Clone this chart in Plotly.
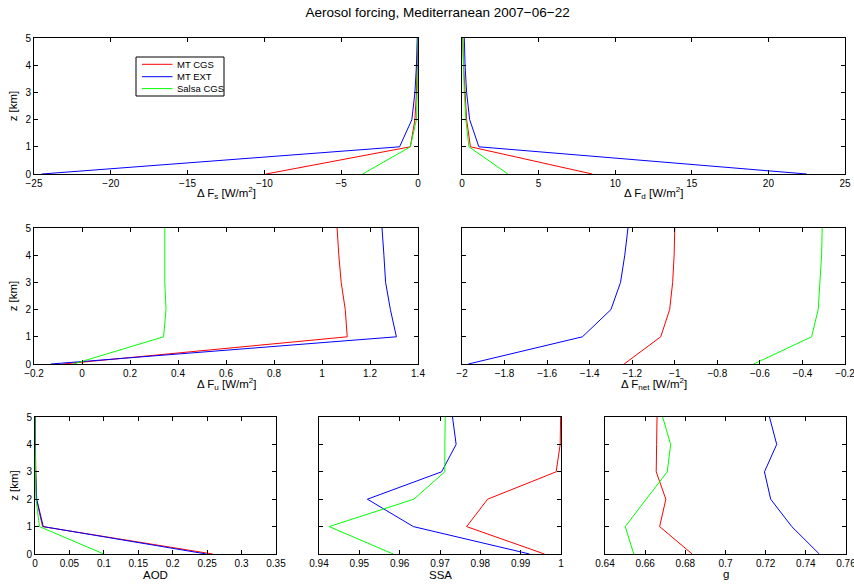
import plotly.graph_objects as go

z = [0, 1, 2, 3, 4, 5]
series_names = ["MT CGS", "MT EXT", "Salsa CGS"]
colors = ["#ff0000", "#0000ff", "#00ff00"]

dFs_cgs = [-9.9, -0.5, -0.2, -0.1, -0.05, 0.0]
dFs_ext = [-24.5, -1.2, -0.4, -0.2, -0.1, -0.05]
dFs_salsa = [-3.6, -0.5, -0.1, -0.05, 0.0, 0.0]

dFd_cgs = [8.5, 0.55, 0.3, 0.2, 0.1, 0.05]
dFd_ext = [22.5, 1.1, 0.5, 0.3, 0.2, 0.15]
dFd_salsa = [3.0, 0.45, 0.25, 0.15, 0.1, 0.05]

dFu_cgs = [-0.08, 1.105, 1.097, 1.08, 1.07, 1.063]
dFu_ext = [-0.13, 1.31, 1.285, 1.265, 1.258, 1.25]
dFu_salsa = [-0.036, 0.34, 0.35, 0.345, 0.345, 0.345]

dFnet_cgs = [-1.238, -1.066, -1.024, -1.01, -1.003, -1.0]
dFnet_ext = [-1.97, -1.434, -1.30, -1.255, -1.235, -1.22]
dFnet_salsa = [-0.629, -0.357, -0.326, -0.318, -0.31, -0.307]

aod_cgs = [0.258, 0.011, 0.002, 0.0008, 0.0005, 0.0003]
aod_ext = [0.249, 0.012, 0.0025, 0.0008, 0.0005, 0.0003]
aod_salsa = [0.1, 0.0065, 0.0015, 0.0004, 0.0002, 0.0001]

ssa_cgs = [0.9959, 0.9766, 0.9818, 0.9988, 0.9998, 0.9999]
ssa_ext = [0.9922, 0.9634, 0.952, 0.9704, 0.974, 0.9731]
ssa_salsa = [0.9584, 0.9425, 0.9635, 0.9712, 0.9712, 0.9713]

g_cgs = [0.6834, 0.6672, 0.6703, 0.6655, 0.6657, 0.6659]
g_ext = [0.7467, 0.733, 0.7225, 0.7194, 0.7255, 0.7219]
g_salsa = [0.6543, 0.6501, 0.6605, 0.671, 0.6727, 0.6687]

W, H = 854, 587


def px_x(p):
    return p / W


def px_y(p):
    return 1 - p / H


panels = [
    # (data, xrange, dtick, xtitle, domain_x(px), domain_y(px top, bottom), show y labels, xtitle y px)
    ((dFs_cgs, dFs_ext, dFs_salsa), [-25, 0], 5, "Δ F<sub>s</sub> [W/m<sup>2</sup>]", (34, 418), (38, 174), True, 193),
    ((dFd_cgs, dFd_ext, dFd_salsa), [0, 25], 5, "Δ F<sub>d</sub> [W/m<sup>2</sup>]", (462, 845), (38, 174), False, 193),
    ((dFu_cgs, dFu_ext, dFu_salsa), [-0.2, 1.4], 0.2, "Δ F<sub>u</sub> [W/m<sup>2</sup>]", (34, 418), (228, 364), True, 384),
    ((dFnet_cgs, dFnet_ext, dFnet_salsa), [-2, -0.2], 0.2, "Δ F<sub>net</sub> [W/m<sup>2</sup>]", (462, 845), (228, 364), False, 384),
    ((aod_cgs, aod_ext, aod_salsa), [0, 0.35], 0.05, "AOD", (35, 276), (417, 554), True, 575),
    ((ssa_cgs, ssa_ext, ssa_salsa), [0.94, 1.0], 0.01, "SSA", (319, 561), (417, 554), False, 575),
    ((g_cgs, g_ext, g_salsa), [0.64, 0.76], 0.02, "g", (605, 846), (417, 554), False, 574),
]

FONT = "Liberation Sans, Arial, Helvetica, sans-serif"
fig = go.Figure()
layout = {}
annotations = []
for i, (data, xr, dt, xt, dx, dy, showy, ty) in enumerate(panels):
    n = "" if i == 0 else str(i + 1)
    for k, vals in enumerate(data):
        fig.add_trace(go.Scatter(
            x=vals, y=z, mode="lines", name=series_names[k],
            line=dict(color=colors[k], width=1),
            xaxis="x" + n, yaxis="y" + n, showlegend=False,
        ))
    common = dict(showline=True, linecolor="black", linewidth=1, mirror="allticks",
                  ticks="inside", ticklen=4, tickcolor="black", showgrid=False,
                  zeroline=False, automargin=False, ticklabeloverflow="allow",
                  tickfont=dict(size=10, color="black", family=FONT))
    layout["xaxis" + n] = dict(common, domain=[px_x(dx[0]), px_x(dx[1])], range=xr, dtick=dt,
                               tick0=xr[0], anchor="y" + n)
    ydict = dict(common, domain=[px_y(dy[1]), px_y(dy[0])], range=[0, 5], dtick=1,
                 anchor="x" + n, showticklabels=showy)
    if showy:
        ydict["title"] = dict(text="z [km]", font=dict(size=11.5, color="black", family=FONT), standoff=5)
    layout["yaxis" + n] = ydict
    annotations.append(dict(text=xt, xref="paper", yref="paper",
                            x=px_x((dx[0] + dx[1]) / 2), y=px_y(ty),
                            xanchor="center", yanchor="middle", showarrow=False,
                            font=dict(size=11.5, color="black", family=FONT)))

fig.update_layout(**layout)

# legend box (drawn inside first panel)
leg_box = (136, 57, 224, 96)
leg_rows = [64.3, 76.7, 88.6]
shapes = [dict(type="rect", xref="paper", yref="paper",
               x0=px_x(leg_box[0]), x1=px_x(leg_box[2]), y0=px_y(leg_box[3]), y1=px_y(leg_box[1]),
               line=dict(color="black", width=1), fillcolor="white", layer="above")]
for k, yy in enumerate(leg_rows):
    shapes.append(dict(type="line", xref="paper", yref="paper",
                       x0=px_x(142), x1=px_x(172.5), y0=px_y(yy), y1=px_y(yy),
                       line=dict(color=colors[k], width=1), layer="above"))
    annotations.append(dict(text=series_names[k], xref="paper", yref="paper",
                            x=px_x(174.5), y=px_y(yy), xanchor="left", yanchor="middle",
                            showarrow=False, font=dict(size=9.5, color="black", family=FONT)))

fig.update_layout(
    width=W, height=H,
    margin=dict(l=0, r=0, t=0, b=0),
    paper_bgcolor="white", plot_bgcolor="white",
    title=dict(text="Aerosol forcing, Mediterranean 2007−06−22", x=0.5124, xanchor="center",
               y=px_y(12), yanchor="middle", automargin=False,
               font=dict(size=13.5, color="black", family=FONT)),
    shapes=shapes, annotations=annotations,
    showlegend=False,
)
fig.write_html("out.html", config={"displayModeBar": False},
               post_script="document.body.style.margin='0px';document.body.style.overflow='hidden';")
